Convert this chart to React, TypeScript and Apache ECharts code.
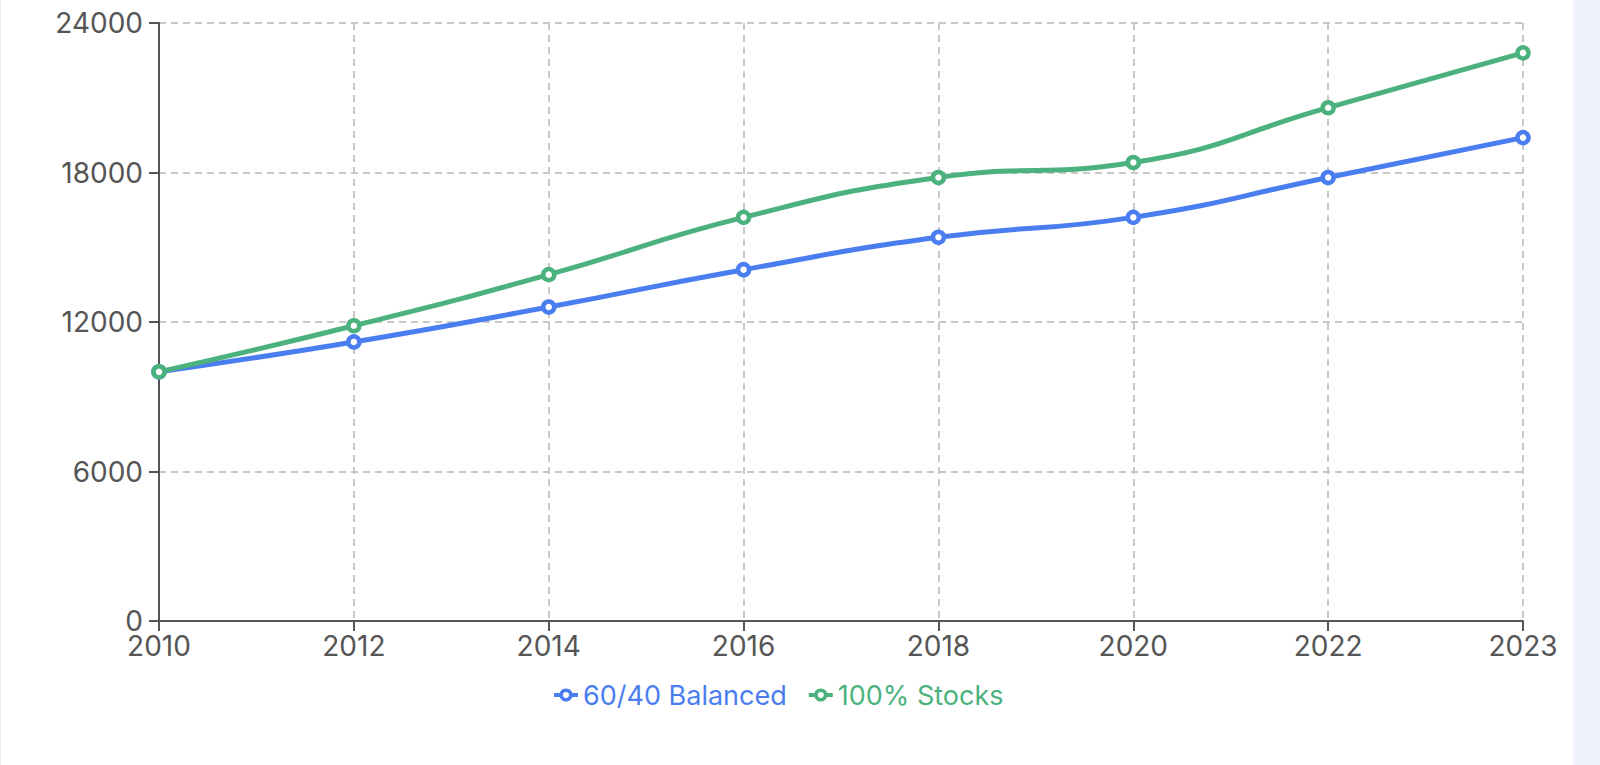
import React, { useEffect, useRef } from "react";
import * as echarts from "echarts";

const years = ["2010", "2012", "2014", "2016", "2018", "2020", "2022", "2023"];
const balanced = [10000, 11200, 12600, 14100, 15400, 16200, 17800, 19400];
const stocks = [10000, 11850, 13900, 16200, 17800, 18400, 20600, 22800];
const seriesNames = ["60/40 Balanced", "100% Stocks"];
const colors = ["#4a7ef0", "#4cb27d"];

const FONT = "Inter, 'Noto Sans', sans-serif";

export default function App() {
  const ref = useRef<HTMLDivElement>(null);
  useEffect(() => {
    if (!ref.current) return;
    const chart = echarts.init(ref.current, undefined, { renderer: "svg" });
    const mkSeries = (name: string, data: number[], color: string) => ({
      name,
      type: "line",
      data,
      smooth: true,
      symbol: "circle",
      symbolSize: 11,
      lineStyle: { width: 5, color },
      itemStyle: { color: "#fff", borderColor: color, borderWidth: 4.5 },
    });
    chart.setOption({
      animation: false,
      grid: { left: 158, right: 50, top: 23, bottom: 144, containLabel: false },
      legend: {
        data: seriesNames.map((n, i) => ({
          name: n,
          textStyle: { color: colors[i] },
          itemStyle: { color: "#fff", borderColor: colors[i], borderWidth: 3.5 },
          lineStyle: { color: colors[i], width: 4 },
        })),
        left: 546,
        top: 676,
        itemWidth: 24,
        itemHeight: 12,
        itemGap: 20,
        textStyle: { fontSize: 27, fontFamily: FONT, lineHeight: 28 },
      },
      xAxis: {
        type: "category",
        data: years,
        boundaryGap: false,
        axisLine: { lineStyle: { color: "#555", width: 2 } },
        axisTick: { show: true, length: 10, lineStyle: { color: "#555", width: 2 } },
        axisLabel: { color: "#555", fontSize: 28, fontFamily: FONT, margin: 11 },
        splitLine: { show: true, lineStyle: { type: [7, 5], color: "#c8c8c8", width: 2 } },
      },
      yAxis: {
        type: "value",
        min: 0,
        max: 24000,
        interval: 6000,
        axisLine: { show: true, lineStyle: { color: "#555", width: 2 } },
        axisTick: { show: true, length: 10, lineStyle: { color: "#555", width: 2 } },
        axisLabel: {
          color: "#555",
          fontSize: 28,
          lineHeight: 16,
          fontFamily: FONT,
          margin: 16,
          formatter: (v: number) => String(v),
        },
        splitLine: { show: true, lineStyle: { type: [7, 5], color: "#c8c8c8", width: 2 } },
      },
      series: [
        mkSeries(seriesNames[0], balanced, colors[0]),
        mkSeries(seriesNames[1], stocks, colors[1]),
      ],
    });
    return () => chart.dispose();
  }, []);
  return (
    <div
      style={{
        position: "fixed",
        left: 0,
        top: 0,
        width: 1600,
        height: 765,
        background: "#eef2f9",
      }}
    >
      <div
        style={{
          position: "absolute",
          left: 0,
          top: 0,
          width: 1573,
          height: 765,
          background: "#fff",
          borderLeft: "1px solid #ececec",
          boxSizing: "border-box",
        }}
      >
        <div ref={ref} style={{ width: 1572, height: 765 }} />
      </div>
    </div>
  );
}
